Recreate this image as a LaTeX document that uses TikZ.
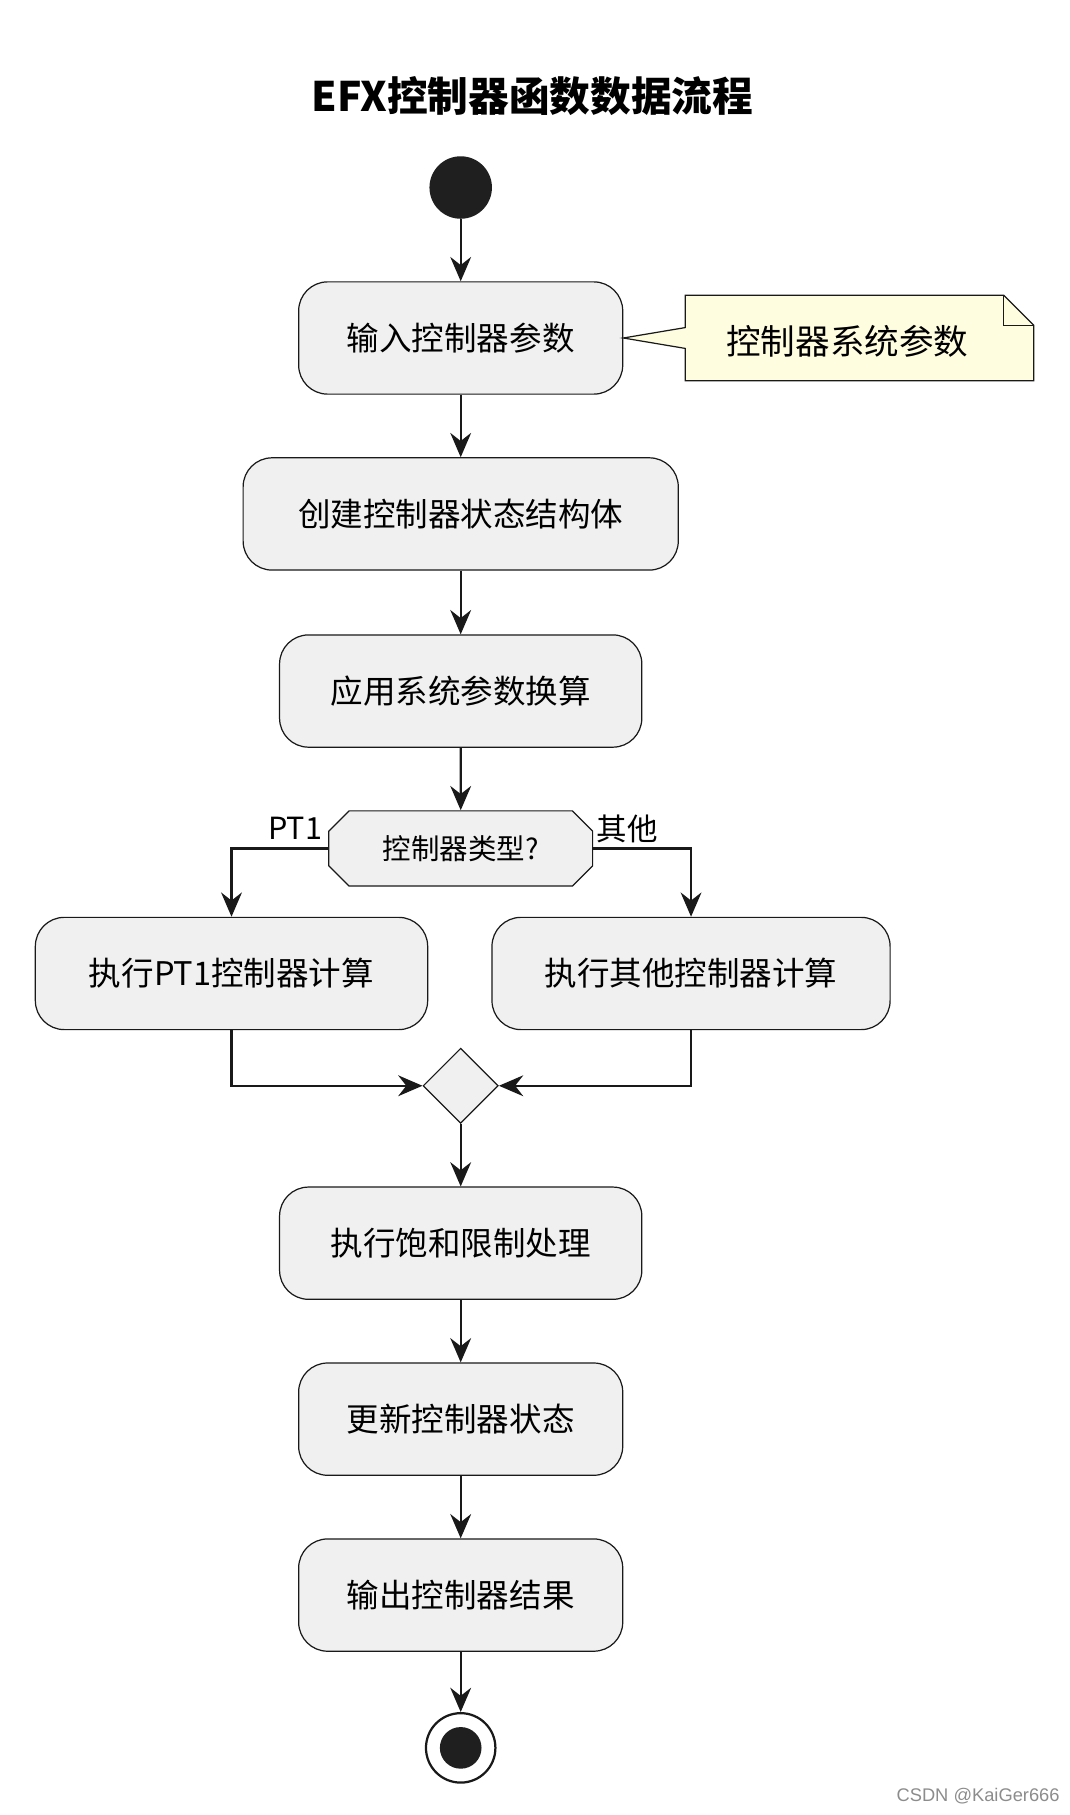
\documentclass[tikz,border=0pt]{standalone}
\usepackage{fontspec}
\setmainfont{Liberation Sans}
\newfontfamily\cjk{Noto Sans CJK SC}
\usetikzlibrary{arrows.meta, positioning, shapes.geometric, shapes.misc}

\begin{document}
\begin{tikzpicture}[x=0.02cm, y=-0.02cm, >={Stealth[length=4.2mm, width=3.6mm, inset=1.4mm]},
            act/.style={rectangle, rounded corners=0.5cm, draw=black!90, fill=black!6, line width=0.6pt, minimum height=1.94cm, inner xsep=0.5cm, font=\cjk\fontsize{16}{18}\selectfont},
            flow/.style={->, line width=1.1pt, black!90},
            lbl/.style={font=\cjk\fontsize{15}{17}\selectfont}]
            
            \useasboundingbox (0,0) rectangle (924,1568);
            
            % Title
            \node[font=\cjk\bfseries\fontsize{20}{24}\selectfont] (title) at (460,83) {EFX控制器函数数据流程};
            
            % Nodes
            \node[circle, fill=black!88, minimum size=1.08cm, inner sep=0pt] (start) at (398,162) {};
            \node[act, minimum width=5.6cm] (in) at (398,292) {输入控制器参数};
            \node[act, minimum width=7.52cm] (create) at (398,444) {创建控制器状态结构体};
            \node[act, minimum width=6.26cm] (conv) at (398,597) {应用系统参数换算};
            \node[draw=black!90, fill=black!6, line width=0.6pt, minimum width=4.56cm, minimum height=1.3cm, chamfered rectangle, chamfered rectangle xsep=0.64cm, inner sep=0pt, font=\cjk\fontsize{14}{16}\selectfont] (type) at (398,733) {控制器类型?};
            \node[act, minimum width=6.78cm] (pt1) at (200,841) {执行PT1控制器计算};
            \node[act, minimum width=6.88cm] (other) at (597,841) {执行其他控制器计算};
            \node[diamond, draw=black!90, fill=black!6, line width=0.6pt, minimum size=1.3cm, inner sep=0pt] (merge) at (398,938) {};
            \node[act, minimum width=6.26cm] (sat) at (398,1074) {执行饱和限制处理};
            \node[act, minimum width=5.6cm] (upd) at (398,1226) {更新控制器状态};
            \node[act, minimum width=5.6cm] (out) at (398,1378) {输出控制器结果};
            \node[circle, draw=black!90, line width=1.1pt, minimum size=1.2cm, inner sep=0pt] (stop) at (398,1510) {};
            \node[circle, fill=black!88, minimum size=0.72cm, inner sep=0pt] at (stop) {};
            
            % Note
            \coordinate (nA) at (592,255);
            \draw[draw=black!90, fill=yellow!12, line width=0.6pt] (nA) -- (867,255) -- (893,281) -- (893,329) -- (592,329) -- (592,301) -- (in.east) -- (592,283) -- cycle;
            \draw[black!90, line width=0.6pt] (867,255) -- (867,281) -- (893,281);
            \node[font=\cjk\fontsize{17}{19}\selectfont] (note) at (732,295) {控制器系统参数};
            
            % Edges
            \draw[flow] (start) -- (in);
            \draw[flow] (in) -- (create);
            \draw[flow] (create) -- (conv);
            \draw[flow] (conv) -- (type);
            \draw[flow] (type.west) -| (pt1.north);
            \draw[flow] (type.east) -| (other.north);
            \draw[flow] (pt1.south) |- (merge.west);
            \draw[flow] (other.south) |- (merge.east);
            \draw[flow] (merge) -- (sat);
            \draw[flow] (sat) -- (upd);
            \draw[flow] (upd) -- (out);
            \draw[flow] (out) -- (stop);
            
            \node[lbl] (lpt1) at (255,716) {PT1};
            \node[lbl] (lother) at (542,716) {其他};
            \node[font=\fontsize{9}{10}\selectfont, text=black!45] (mark) at (845,1552) {CSDN @KaiGer666};
    \end{tikzpicture}
\end{document}
